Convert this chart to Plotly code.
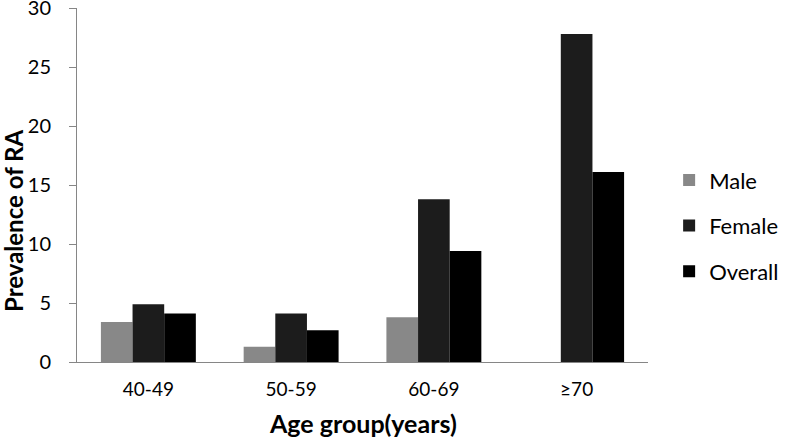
import plotly.graph_objects as go

age_groups = ["40-49", "50-59", "60-69", "≥70"]
male = [3.4, 1.3, 3.8, 0]
female = [4.9, 4.1, 13.8, 27.8]
overall = [4.1, 2.7, 9.4, 16.1]

FONT = "Lato, 'Open Sans', sans-serif"

fig = go.Figure()
for name, vals, color in [("Male", male, "#888888"),
                          ("Female", female, "#1c1c1c"),
                          ("Overall", overall, "#000000")]:
    fig.add_trace(go.Bar(x=age_groups, y=vals, name=name, legendgroup=name,
                         marker=dict(color=color, line=dict(width=0))))

# plot area spans x 77..648, y 8..362 px
fig.update_layout(
    width=787, height=442,
    barmode="group", bargap=0.335, bargroupgap=0,
    plot_bgcolor="white", paper_bgcolor="white",
    margin=dict(l=77, r=139, t=8, b=80, autoexpand=False),
    font=dict(family=FONT, color="black", size=18),
    legend=dict(x=1.037, y=0.385, xanchor="left", yanchor="middle",
                font=dict(size=22), tracegroupgap=14,
                itemwidth=30, bgcolor="rgba(0,0,0,0)"),
    xaxis=dict(showline=True, linecolor="#868686", linewidth=1,
               automargin=False,
               ticks="outside", ticklen=10, tickcolor="rgba(0,0,0,0)",
               tickfont=dict(size=19)),
    yaxis=dict(range=[0, 30], dtick=5, showgrid=False, zeroline=False,
               showline=True, linecolor="#868686", linewidth=1,
               automargin=False,
               ticks="outside", ticklen=7, tickcolor="#868686",
               ticklabelstandoff=14, ticklabeloverflow="allow",
               tickfont=dict(size=20)),
    annotations=[
        dict(text="<b>Prevalence of RA</b>", textangle=-90,
             x=-(77 - 14) / 571, xref="paper", xanchor="center",
             y=(362 - 221) / 354, yref="paper", yanchor="middle",
             showarrow=False, borderpad=0, font=dict(size=24)),
        dict(text="<b>Age group(years)</b>",
             x=0.5, xref="paper", xanchor="center",
             y=-(423 - 362) / 354, yref="paper", yanchor="middle",
             showarrow=False, font=dict(size=25)),
    ],
)

# the page's default body margin would push the figure 8px off the window
fig.write_html("out.html", config={"displayModeBar": False},
               post_script="document.body.style.margin='0';")
